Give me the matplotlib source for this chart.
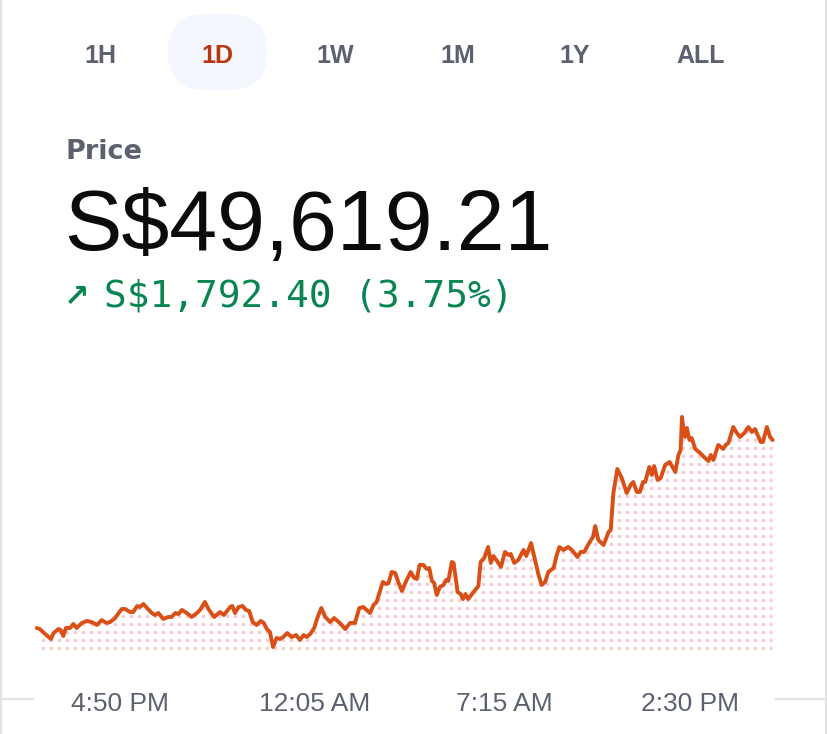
import numpy as np
import matplotlib
matplotlib.use("Agg")
import matplotlib.pyplot as plt
from matplotlib.patches import FancyBboxPatch
from matplotlib.lines import Line2D

# minutes since ~1:42 PM and price in S$
minutes = [0, 7, 19, 32, 38, 49, 54, 60, 66, 75, 83, 90, 102, 113, 124, 136, 147, 157, 166, 177,
           192, 200, 211, 218, 227, 233, 241, 249, 260, 267, 275, 286, 297, 305, 313, 320, 328, 339, 350, 362,
           369, 380, 388, 401, 414, 423, 437, 442, 448, 456, 465, 473, 480, 488, 497, 506, 513, 520, 527, 534,
           542, 550, 557, 566, 576, 586, 595, 603, 610, 618, 627, 634, 643, 652, 663, 672, 685, 697, 708, 719,
           729, 738, 753, 761, 768, 782, 789, 795, 802, 810, 817, 825, 836, 845, 853, 859, 865, 874, 881, 887,
           893, 898, 904, 911, 919, 925, 930, 938, 942, 951, 958, 963, 969, 975, 987, 998, 1003, 1011, 1020, 1026,
           1032, 1040, 1049, 1058, 1066, 1071, 1079, 1088, 1100, 1106, 1117, 1126, 1134, 1141, 1149, 1156, 1168, 1175, 1181, 1190,
           1201, 1209, 1222, 1229, 1237, 1247, 1257, 1262, 1269, 1281, 1292, 1297, 1303, 1312, 1322, 1333, 1342, 1348, 1356, 1363,
           1370, 1375, 1384, 1390, 1395, 1403, 1410, 1420, 1430, 1443, 1450, 1455, 1458, 1461, 1465, 1469, 1475, 1480, 1488, 1499,
           1510, 1518, 1523, 1529, 1540, 1551, 1557, 1563, 1574, 1582, 1589, 1599, 1608, 1616, 1623, 1629, 1636, 1641, 1650, 1657,
           1663]
price = [47827, 47817, 47770, 47722, 47779, 47817, 47808, 47751, 47827, 47827, 47865, 47827, 47875, 47894, 47884, 47856, 47903, 47875, 47884, 47922,
         48008, 48008, 47979, 47979, 48037, 48027, 48056, 48018, 47970, 47951, 47970, 47913, 47932, 47932, 47970, 47960, 47999, 47970, 47932, 47970,
         47999, 48075, 48008, 47932, 47979, 47951, 48027, 48037, 47970, 48027, 48037, 47999, 47989, 47884, 47856, 47894, 47875, 47817, 47789, 47646,
         47732, 47722, 47741, 47779, 47741, 47760, 47713, 47760, 47741, 47770, 47827, 47922, 48018, 47932, 47884, 47922, 47875, 47817, 47875, 47875,
         48018, 48027, 47970, 48046, 48075, 48266, 48246, 48256, 48361, 48351, 48266, 48180, 48285, 48361, 48304, 48294, 48428, 48428, 48390, 48399,
         48275, 48256, 48142, 48218, 48237, 48285, 48275, 48456, 48447, 48170, 48151, 48103, 48151, 48103, 48170, 48227, 48456, 48494, 48599, 48447,
         48513, 48466, 48409, 48552, 48523, 48533, 48447, 48475, 48571, 48513, 48637, 48475, 48332, 48237, 48266, 48361, 48399, 48523, 48599, 48571,
         48599, 48571, 48504, 48552, 48552, 48628, 48695, 48799, 48666, 48618, 48742, 48761, 49114, 49343, 49257, 49114, 49190, 49219, 49124, 49124,
         49219, 49219, 49362, 49286, 49371, 49238, 49257, 49381, 49410, 49314, 49476, 49524, 49839, 49734, 49648, 49734, 49619, 49638, 49534, 49495,
         49448, 49419, 49476, 49429, 49572, 49534, 49572, 49591, 49743, 49686, 49648, 49686, 49743, 49696, 49724, 49667, 49600, 49600, 49743, 49648,
         49619.21]

tick_minutes = [188, 627, 1056, 1476]
tick_labels = ["4:50 PM", "12:05 AM", "7:15 AM", "2:30 PM"]
tabs = ["1H", "1D", "1W", "1M", "1Y", "ALL"]
tab_x = [100, 217, 335, 458, 575, 701]
selected_tab = "1D"

W, H = 828, 734
gray = "#5b616e"
orange = "#d94f16"
green = "#098551"

fig = plt.figure(figsize=(W / 100, H / 100), dpi=100)
fig.patch.set_facecolor("white")

def fx(x):
    return x / W

def fy(y):
    return 1 - y / H

# pill behind the selected tab
pill = FancyBboxPatch((168, H - 90), 99, 76, boxstyle="round,pad=0,rounding_size=37",
                      facecolor="#f4f7fe", edgecolor="none", transform=None)
fig.patches.append(pill)

for t, x in zip(tabs, tab_x):
    fig.text(fx(x), fy(63), t, ha="center", va="baseline", fontsize=18,
             family="Liberation Sans", weight="bold",
             color="#b8360f" if t == selected_tab else gray)

fig.text(fx(66), fy(159), "Price", fontsize=19.5, family="DejaVu Sans", weight="bold", color=gray)
fig.text(fx(64), fy(250), "S$49,619.21", fontsize=62, family="Liberation Sans", color="#0a0b0d")
fig.text(fx(64), fy(306), "\u2197", fontsize=22, family="DejaVu Sans", weight="bold", color=green)
fig.text(fx(104), fy(307), "S$1,792.40 (3.75%)", fontsize=27.2, family="DejaVu Sans Mono", color=green)

# chart axes
ax = fig.add_axes([0, fy(660), 1, 280 / H])
ax.set_facecolor("none")
ax.set_xlim(-83, 1788)
ax.set_ylim(47522, 50191)
for s in ax.spines.values():
    s.set_visible(False)
ax.set_yticks([])
ax.set_xticks(tick_minutes, tick_labels)
ax.tick_params(axis="x", length=0, pad=23, labelsize=19, labelcolor=gray)
for lbl in ax.get_xticklabels():
    lbl.set_family("Liberation Sans")

# dotted fill under the line
base = 47600
area = ax.fill_between(minutes, price, base, facecolor="none", edgecolor="none")
clip = area.get_paths()[0]
gx = 14.2 + 18.08 * np.arange(92)
gy = 47636 + 76.27 * np.arange(30)
XX, YY = np.meshgrid(gx, gy)
dots = ax.scatter(XX[1:].ravel(), YY[1:].ravel(), s=7, color="#fbcbd5", linewidths=0)
dots.set_clip_path(clip, ax.transData)
row0 = ax.scatter(XX[0], YY[0], s=7, color="#f5d2c2", linewidths=0)
row0.set_clip_path(clip, ax.transData)

ax.plot(minutes, price, color=orange, lw=2.8, solid_joinstyle="round", solid_capstyle="round")

# frame lines
edge = "#e2e2e2"
fig.add_artist(Line2D([0, fx(33)], [fy(699), fy(699)], transform=fig.transFigure, color=edge, lw=1.5))
fig.add_artist(Line2D([fx(776), fx(826)], [fy(699), fy(699)], transform=fig.transFigure, color=edge, lw=1.5))
fig.add_artist(Line2D([fx(1), fx(1)], [0, 1], transform=fig.transFigure, color=edge, lw=1.5))
fig.add_artist(Line2D([fx(826), fx(826)], [0, 1], transform=fig.transFigure, color=edge, lw=1.5))

fig.savefig("out.png", dpi=100, facecolor="white")
